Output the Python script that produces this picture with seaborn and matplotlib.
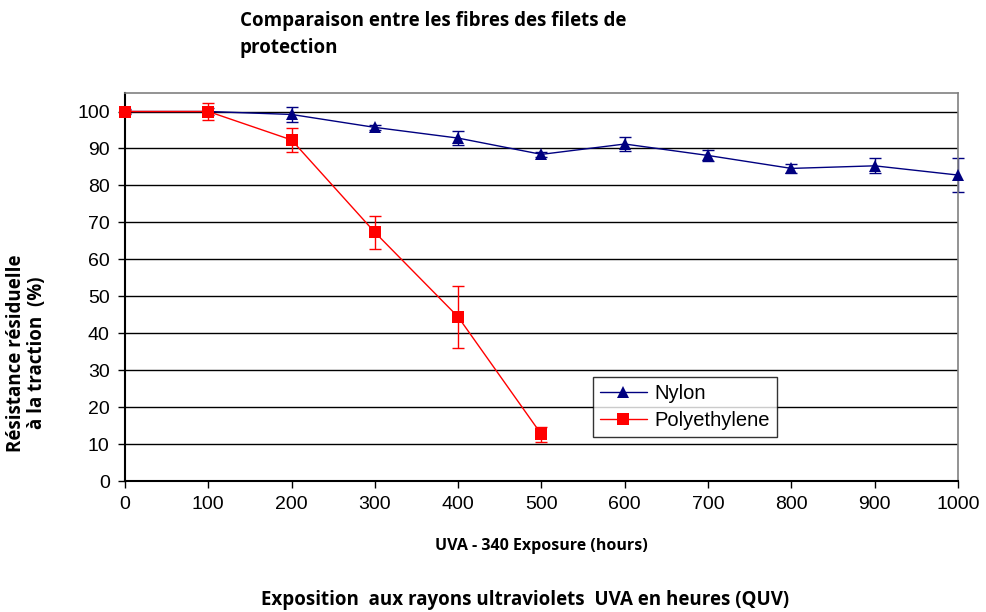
import matplotlib
matplotlib.use("Agg")
import matplotlib.pyplot as plt
import seaborn as sns
import pandas as pd

# heures d'exposition UVA
hours_nylon = [0, 100, 200, 300, 400, 500, 600, 700, 800, 900, 1000]
nylon = [100, 100, 99.2, 95.7, 92.8, 88.4, 91.2, 88.1, 84.6, 85.3, 82.8]
nylon_err = [0.8, 1.0, 2.0, 0.7, 2.0, 0.6, 2.0, 1.5, 1.3, 2.0, 4.7]

hours_pe = [0, 100, 200, 300, 400, 500]
polyethylene = [100, 100, 92.3, 67.3, 44.4, 12.6]
pe_err = [0.5, 2.3, 3.3, 4.5, 8.5, 2.0]

NAVY = "#000080"
RED = "#ff0000"

df = pd.concat([
    pd.DataFrame({"hours": hours_nylon, "value": nylon, "serie": "Nylon"}),
    pd.DataFrame({"hours": hours_pe, "value": polyethylene, "serie": "Polyethylene"}),
])

sns.set_style("white")
plt.rcParams["font.family"] = ["Liberation Sans", "DejaVu Sans"]
plt.rcParams["text.color"] = "black"
plt.rcParams["axes.labelcolor"] = "black"
BOLD_FONT = ["Open Sans", "DejaVu Sans"]

fig = plt.figure(figsize=(9.87, 6.12), dpi=100)
ax = fig.add_axes([0.1266, 0.214, 0.844, 0.634])

sns.lineplot(data=df, x="hours", y="value", hue="serie", style="serie",
             palette={"Nylon": NAVY, "Polyethylene": RED},
             markers={"Nylon": "^", "Polyethylene": "s"},
             dashes=False, markersize=9, markeredgewidth=0, linewidth=1,
             ax=ax, zorder=3)
for ln in ax.lines:
    ln.set_clip_on(False)

for x, y, e, c in [(hours_nylon, nylon, nylon_err, NAVY),
                   (hours_pe, polyethylene, pe_err, RED)]:
    _, caps, bars = ax.errorbar(x, y, yerr=e, fmt="none", ecolor=c,
                                elinewidth=1, capsize=4, capthick=1, zorder=2)
    for art in list(caps) + list(bars):
        art.set_clip_on(False)

ax.set_xlim(0, 1000)
ax.set_ylim(0, 105)
ax.set_xticks(range(0, 1001, 100))
ax.set_yticks(range(0, 101, 10))
ax.tick_params(axis="both", labelsize=14, direction="out", length=5, width=1,
               bottom=True, left=True, colors="black", pad=6)
ax.yaxis.grid(True, color="black", linewidth=1)
ax.set_axisbelow(True)

for side in ["left", "bottom"]:
    ax.spines[side].set_color("black")
    ax.spines[side].set_linewidth(1.5)
for side in ["top", "right"]:
    ax.spines[side].set_color("#808080")
    ax.spines[side].set_linewidth(1.2)

ax.set_xlabel("UVA - 340 Exposure (hours)", fontsize=11.5, fontweight="bold",
              family=BOLD_FONT, labelpad=18)
ax.set_ylabel("Résistance résiduelle\nà la traction  (%)", fontsize=13.5,
              fontweight="bold", family=BOLD_FONT, linespacing=1.05)
ax.yaxis.set_label_coords(-0.094, 0.33)

leg = ax.legend(loc="upper left", bbox_to_anchor=(0.55, 0.295),
                fontsize=14.5, frameon=True, fancybox=False, edgecolor="black",
                handlelength=2.3, handletextpad=0.4, borderpad=0.35,
                labelspacing=0.4)
leg.get_frame().set_linewidth(1)

fig.text(0.243, 0.982, "Comparaison entre les fibres des filets de\nprotection",
         ha="left", va="top", fontsize=13.5, fontweight="bold",
         family=BOLD_FONT, linespacing=1.45)
fig.text(0.532, 0.02, "Exposition  aux rayons ultraviolets  UVA en heures (QUV)",
         ha="center", va="center", fontsize=13.5, fontweight="bold",
         family=BOLD_FONT)

fig.savefig("out.png", dpi=100)
